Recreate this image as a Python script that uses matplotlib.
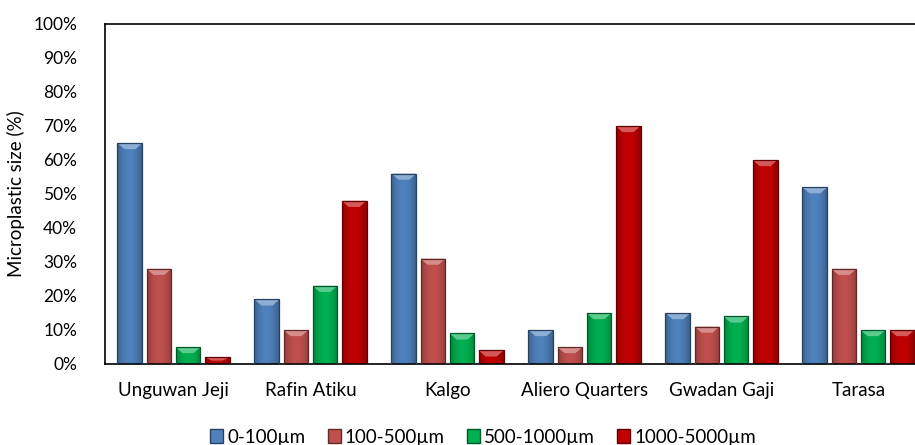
import numpy as np
import matplotlib.pyplot as plt
import matplotlib.colors as mcolors
from matplotlib.patches import Patch, Polygon

plt.rcParams['font.family'] = ['Lato', 'DejaVu Sans']

sites = ['Unguwan Jeji', 'Rafin Atiku', 'Kalgo', 'Aliero Quarters',
         'Gwadan Gaji', 'Tarasa']
size_classes = ['0-100µm', '100-500µm', '500-1000µm', '1000-5000µm']
pct_0_100 = [65, 19, 56, 10, 15, 52]
pct_100_500 = [28, 10, 31, 5, 11, 28]
pct_500_1000 = [5, 23, 9, 15, 14, 10]
pct_1000_5000 = [2, 48, 4, 70, 60, 10]
series = [pct_0_100, pct_100_500, pct_500_1000, pct_1000_5000]
colors = ['#4F81BD', '#C0504D', '#00B050', '#C00000']


def shade(c, f):
    rgb = np.array(mcolors.to_rgb(c))
    if f >= 1:
        return tuple(rgb + (1 - rgb) * (f - 1))
    return tuple(rgb * f)


def bevel_bar(ax, x, h, w, color):
    # horizontal gradient: darker sides, brighter middle
    t = np.linspace(-1, 1, 64)
    prof = 1 - 0.25 * t ** 2
    img = np.array([[shade(color, p) for p in prof]])
    bars = ax.bar(x, h, w, color='none', edgecolor=shade(color, 0.5),
                  linewidth=0.9, zorder=3)
    p = bars[0]
    im = ax.imshow(img, extent=(x - w / 2, x + w / 2, 0, h), aspect='auto',
                   zorder=2, interpolation='bilinear')
    im.set_clip_path(p)
    # lighter chamfer on the top face
    d = min(1.8, h * 0.5)
    dx = w * 0.28
    top = Polygon([(x - w / 2, h), (x + w / 2, h), (x + w / 2 - dx, h - d),
                   (x - w / 2 + dx, h - d)], closed=True,
                  facecolor=shade(color, 1.35), edgecolor='none', zorder=2.5)
    ax.add_patch(top)


fig = plt.figure(figsize=(9.15, 4.45), dpi=100)
ax = fig.add_axes([105 / 915, 81 / 445, 822 / 915, 340 / 445])

n = len(series)
step = 0.212
width = 0.182
xs = np.arange(len(sites))
for i, (vals, c) in enumerate(zip(series, colors)):
    offs = (i - (n - 1) / 2) * step
    for x, v in zip(xs, vals):
        bevel_bar(ax, x + offs, v, width, c)

ax.set_xlim(-0.5, len(sites) - 0.5)
ax.set_ylim(0, 100)
ax.set_yticks(np.arange(0, 101, 10))
ax.set_yticklabels([f'{v}%' for v in range(0, 101, 10)], fontsize=12.5)
ax.set_xticks(xs)
ax.set_xticklabels(sites, fontsize=13.5)
ax.tick_params(axis='both', length=0)
ax.tick_params(axis='y', pad=20)
ax.tick_params(axis='x', pad=13)
for s in ax.spines.values():
    s.set_color('black')
    s.set_linewidth(1.2)
ax.set_ylabel('Microplastic size (%)', fontsize=13.5, labelpad=6)

handles = [Patch(facecolor=c, edgecolor=shade(c, 0.5), label=l)
           for c, l in zip(colors, size_classes)]
fig.legend(handles=handles, loc='center', bbox_to_anchor=(483 / 915, 1 - 437 / 445),
           ncol=4, frameon=False, fontsize=13.5, handlelength=0.7,
           handleheight=0.7, handletextpad=0.2, columnspacing=1.2)

fig.savefig('out.png', dpi=100)
